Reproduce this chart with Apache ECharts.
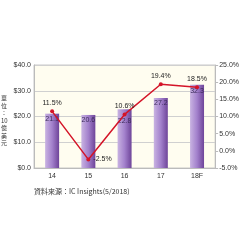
<!DOCTYPE html>
<html>
<head>
<meta charset="utf-8">
<script src="https://cdn.jsdelivr.net/npm/echarts@6/dist/echarts.min.js"></script>
<style>
  html, body { margin: 0; padding: 0; background: #fff; }
  #chart { width: 242px; height: 242px; }
</style>
</head>
<body>
<div id="chart"></div>
<script>
const categories = ['14', '15', '16', '17', '18F'];
const salesValues = [21.1, 20.6, 22.8, 27.2, 32.3];
const growthValues = [11.5, -2.5, 10.6, 19.4, 18.5];
const growthLabelPos = ['top', 'right', 'top', 'top', 'top'];
// bar 16's value sits below the growth point in the source
const barLabelDist = [2, 2, 8, 2, 3];

const chart = echarts.init(document.getElementById('chart'));
const font = 'Liberation Sans, Arial, sans-serif';

const option = {
  animation: false,
  textStyle: { fontFamily: font },
  grid: {
    left: 34, right: 24, top: 65, bottom: 74,
    show: true,
    backgroundColor: '#fffdf0',
    borderColor: '#c8c8c8',
    borderWidth: 1
  },
  graphic: [
    {
      type: 'text', left: 1, top: 94,
      style: {
        text: '單\n位\n：\n10\n億\n美\n元',
        fontSize: 6, lineHeight: 7.5, fill: '#333',
        fontFamily: 'Noto Sans CJK TC', align: 'center'
      }
    },
    {
      type: 'text', left: 34, top: 188,
      style: {
        text: '資料來源：IC Insights(5/2018)',
        fontSize: 7, fill: '#333', fontFamily: 'Noto Sans CJK TC'
      }
    }
  ],
  xAxis: {
    type: 'category',
    data: categories,
    axisLine: { lineStyle: { color: '#bbb' } },
    axisTick: { show: false },
    axisLabel: { fontSize: 7, color: '#333', margin: 5 }
  },
  yAxis: [
    {
      type: 'value', min: 0, max: 40, interval: 10,
      axisLine: { show: true, lineStyle: { color: '#bbb' } },
      axisTick: { show: false },
      splitLine: { lineStyle: { color: '#d0d0d0' } },
      axisLabel: {
        fontSize: 7, color: '#333', margin: 3,
        formatter: (v) => '$' + v.toFixed(1)
      }
    },
    {
      type: 'value', min: -5, max: 25, interval: 5,
      position: 'right',
      axisLine: { show: true, lineStyle: { color: '#bbb' } },
      axisTick: { show: true, length: 3, lineStyle: { color: '#bbb' } },
      splitLine: { show: false },
      axisLabel: {
        fontSize: 7, color: '#333', margin: 4,
        formatter: (v) => v.toFixed(1) + '%'
      }
    }
  ],
  series: [
    {
      type: 'bar',
      data: salesValues.map((v, i) => ({
        value: v,
        label: { distance: barLabelDist[i] }
      })),
      barWidth: 14,
      itemStyle: {
        color: new echarts.graphic.LinearGradient(0, 0, 1, 0, [
          { offset: 0, color: '#c9b3e2' },
          { offset: 0.5, color: '#a381cc' },
          { offset: 1, color: '#6e4499' }
        ])
      },
      label: {
        show: true, position: 'insideTop',
        fontSize: 7, color: '#3b2a5a',
        formatter: (p) => p.value.toFixed(1)
      }
    },
    {
      type: 'line',
      yAxisIndex: 1,
      data: growthValues.map((v, i) => ({
        value: v,
        label: { position: growthLabelPos[i] }
      })),
      symbol: 'circle',
      symbolSize: 4,
      lineStyle: { color: '#d41428', width: 1.5 },
      itemStyle: { color: '#d41428' },
      label: {
        show: true, fontSize: 7, color: '#222', distance: 3,
        formatter: (p) => p.value.toFixed(1) + '%'
      },
      z: 5
    }
  ]
};

chart.setOption(option);
</script>
</body>
</html>
